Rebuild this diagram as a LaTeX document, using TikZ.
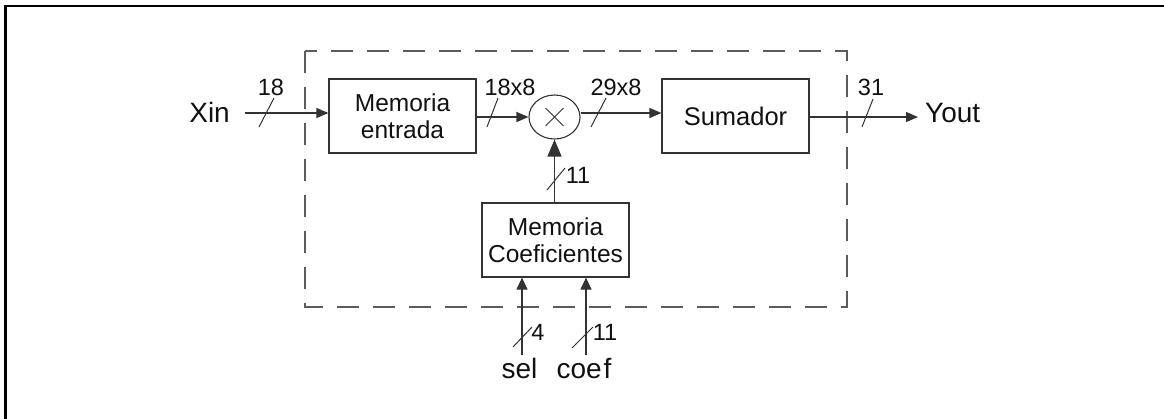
\documentclass[tikz,border=0pt]{standalone}
\usepackage{fontspec}
\setmainfont{Liberation Sans}
\usetikzlibrary{arrows.meta,shapes.geometric}
\definecolor{ln}{HTML}{333333}
\definecolor{tx}{HTML}{111111}
\begin{document}
\begin{tikzpicture}[x=1pt,y=-1pt,
  blk/.style={draw=ln,line width=1.2pt,inner sep=0pt,align=center,text=tx,
    minimum width=147pt,minimum height=74pt,font=\fontsize{24.5}{26.5}\selectfont},
  wire/.style={draw=ln,line width=1.2pt},
  tipH/.style={-{Triangle[length=12pt,width=10pt]}},
  tipV/.style={-{Triangle[length=12pt,width=11pt]}},
  tipM/.style={-{Triangle[length=17pt,width=14pt]}},
  slash/.style={draw=ln,line width=1pt},
  num/.style={inner sep=0pt,text=tx,font=\fontsize{23.5}{26}\selectfont},
  io/.style={inner sep=0pt,text=tx,font=\fontsize{28}{30}\selectfont},
  dashbox/.style={draw=ln!80,line width=1.2pt,dash pattern=on 22pt off 14pt}
]
\useasboundingbox (0,0) rectangle (1164,418);
\fill[white] (0,0) rectangle (1164,418);
% outer frame (open to the right and bottom)
\draw[black,line width=2.6pt] (5.3,420) -- (5.3,6) -- (1166,6);
% dashed enclosure
\draw[dashbox] (305,51) rectangle (847,307);

% blocks
\node[blk] (me) at (402.5,116) {Memoria\\entrada};
\node[blk,font=\fontsize{25.5}{28}\selectfont] (sum) at (735.5,116) {Sumador};
\node[blk] (mc) at (555.5,240) {Memoria\\Coeficientes};
\node[draw=ln,line width=1.1pt,ellipse,minimum width=51pt,minimum height=44pt,inner sep=0pt] (mult) at (554.5,117) {};
\draw[ln,line width=1pt] ([shift={(-9,-9)}]mult.center) -- ([shift={(9,9)}]mult.center)
                         ([shift={(-9,9)}]mult.center) -- ([shift={(9,-9)}]mult.center);

% inputs / outputs
\node[io,anchor=east] (xin) at (230,112) {Xin};
\coordinate (xs) at (245,113);
\node[io,anchor=west] (yout) at (925,113) {Yout};
\node[io] (sel) at (519.5,368) {sel};
\node[io] (coef) at (584,368) {coe\kern2pt f};
\coordinate (sels) at (522,355);
\coordinate (coefs) at (586,355);

% connectors
\draw[wire,tipH] (xs) -- (xs -| me.west);
\draw[wire,tipH] ([yshift=-1pt]me.east) -- ([yshift=-1pt]me.east -| mult.west);
\draw[wire,tipH] (mult.east |- 0,113) -- (sum.west |- 0,113);
\draw[wire,tipH] ([yshift=-1pt]sum.east) -- ([yshift=-1pt,xshift=-7pt]sum.east -| yout.west);
\draw[wire,tipM] (mult.south |- mc.north) -- (mult.south);
\draw[wire,tipV] (sels) -- (sels |- mc.south);
\draw[wire,tipV] (coefs) -- (coefs |- mc.south);

% bus-width slashes
\draw[slash] (259,127) -- (274,98);
\draw[slash] (487,127) -- (498,98);
\draw[slash] (591,127) -- (606,98);
\draw[slash] (862,127) -- (873,99);
\draw[slash] (547,190) -- (565,168);
\draw[slash] (513,347) -- (532,327);
\draw[slash] (572,348) -- (593,327);

% bus-width labels
\node[num] (n1) at (271,87) {18};
\node[num] (n2) at (510,87) {18x8};
\node[num] (n3) at (616,87) {29x8};
\node[num] (n4) at (871,87) {31};
\node[num] (n5) at (578,175) {11};
\node[num] (n6) at (538,332) {4};
\node[num] (n7) at (605,332) {11};
\end{tikzpicture}
\end{document}
